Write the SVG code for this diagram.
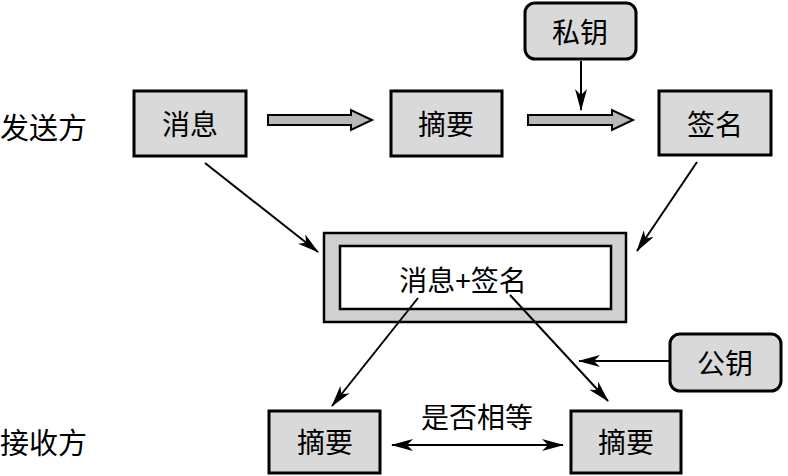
<svg xmlns="http://www.w3.org/2000/svg" width="788" height="476" viewBox="0 0 788 476">
<style>
.box{fill:#d9d9d9;stroke:#000;stroke-width:3}
.t{font-family:"Noto Sans CJK SC","Liberation Serif",serif;font-size:28px;fill:#000;text-anchor:middle;dominant-baseline:central}
.lbl{font-family:"Noto Sans CJK SC","Liberation Serif",serif;font-size:29px;fill:#000;dominant-baseline:central}
.ln{stroke:#000;stroke-width:2;fill:none;marker-end:url(#ah)}
.fat{fill:#b8b8b8;stroke:#000;stroke-width:2}
</style>
<defs>
<marker id="ah" viewBox="0 0 22 12" refX="21" refY="6" markerWidth="22" markerHeight="12" markerUnits="userSpaceOnUse" orient="auto-start-reverse">
<path d="M0,0 L22,6 L0,12 L6,6 Z" fill="#000"/>
</marker>
</defs>
<rect width="788" height="476" fill="#fff"/>
<text class="lbl" x="0" y="126">发送方</text>
<text class="lbl" x="0" y="441">接收方</text>
<g id="msg"><rect class="box" x="134" y="91" width="112" height="65"/><text class="t" x="190" y="123">消息</text></g>
<g id="digest1"><rect class="box" x="391" y="91" width="111" height="65"/><text class="t" x="446" y="123">摘要</text></g>
<g id="sign"><rect class="box" x="659" y="91" width="112" height="64"/><text class="t" x="715" y="123">签名</text></g>
<g id="privkey"><rect class="box" x="525" y="3" width="111" height="56" rx="10"/><text class="t" x="580" y="31">私钥</text></g>
<g id="combined"><rect x="324" y="233" width="302" height="89" fill="#d0d0d0" stroke="#000" stroke-width="2.5"/><rect x="340" y="246" width="271" height="63" fill="#fff" stroke="#000" stroke-width="2.5"/><text class="t" x="463" y="279">消息+签名</text></g>
<g id="pubkey"><rect class="box" x="670" y="334" width="111" height="57" rx="10"/><text class="t" x="725" y="362">公钥</text></g>
<g id="digest2"><rect class="box" x="269" y="411" width="111" height="62"/><text class="t" x="325" y="441">摘要</text></g>
<g id="digest3"><rect class="box" x="571" y="411" width="110" height="62"/><text class="t" x="626" y="441">摘要</text></g>
<text class="t" x="477" y="416">是否相等</text>
<g id="connectors">
<path class="fat" d="M268,115 H351 V110 L372,120 L351,130 V125 H268 Z"/>
<path class="fat" d="M528,115 H612 V110 L633,120 L612,130 V125 H528 Z"/>
<line class="ln" x1="581" y1="61" x2="581" y2="110"/>
<line class="ln" x1="205" y1="163" x2="318" y2="252"/>
<line class="ln" x1="697" y1="162" x2="637" y2="251"/>
<line class="ln" x1="418" y1="298" x2="332" y2="406"/>
<line class="ln" x1="510" y1="295" x2="608" y2="401"/>
<line class="ln" x1="669" y1="361" x2="579" y2="361"/>
<line class="ln" x1="392" y1="445" x2="563" y2="445" style="marker-start:url(#ah)"/>
</g>
</svg>
